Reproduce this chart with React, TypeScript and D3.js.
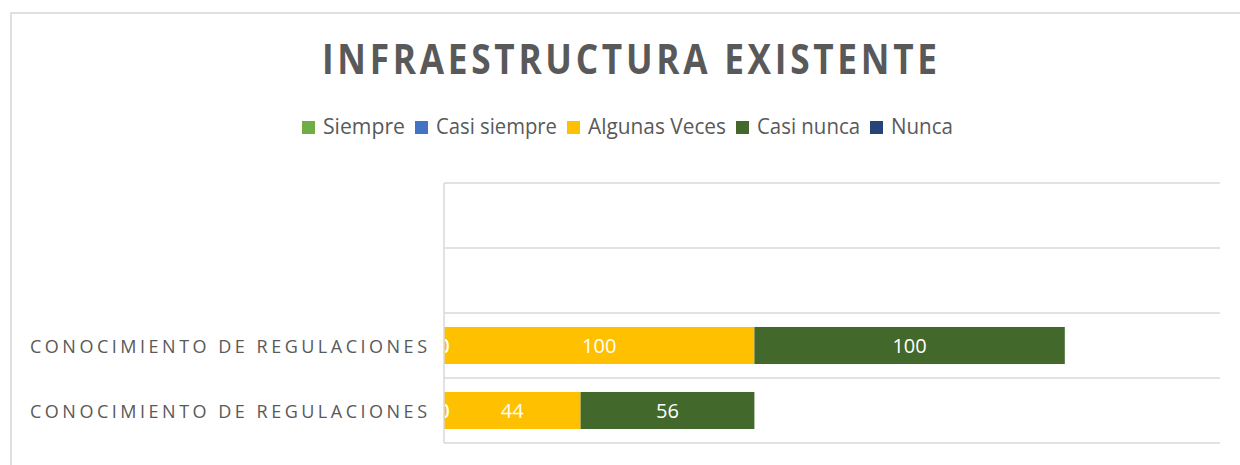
import React from "react";
import * as d3 from "d3";

// ---- data ----
const categories: string[] = ["", "", "CONOCIMIENTO DE REGULACIONES", "CONOCIMIENTO DE REGULACIONES"];
const seriesNames: string[] = ["Siempre", "Casi siempre", "Algunas Veces", "Casi nunca", "Nunca"];
const siempre: (number | null)[] = [null, null, 0, 0];
const casiSiempre: (number | null)[] = [null, null, 0, 0];
const algunasVeces: (number | null)[] = [null, null, 100, 44];
const casiNunca: (number | null)[] = [null, null, 100, 56];
const nunca: (number | null)[] = [null, null, null, null];
const xDomainMax = 250;
const title = "INFRAESTRUCTURA EXISTENTE";

// ---- styles ----
const colors = ["#70AD47", "#4472C4", "#FFC000", "#43682B", "#264478"];
const textColor = "#595959";
const gridColor = "#d9d9d9";
const font = "'Open Sans', 'Noto Sans', sans-serif";

const W = 1240;
const H = 465;
const plot = { left: 444, right: 1220, top: 183, bottom: 443 };

// legend text widths matched to reference
const legendTextWidths = [82, 121, 138, 103, 62];

export default function App() {
  const allSeries = [siempre, casiSiempre, algunasVeces, casiNunca, nunca];
  const idx = categories.map((_, i) => i);
  const y = d3.scaleBand<number>().domain(idx).range([plot.top, plot.bottom]).paddingInner(0.43).paddingOuter(0.215);
  const yOuter = d3.scaleBand<number>().domain(idx).range([plot.top, plot.bottom]);
  const x = d3.scaleLinear().domain([0, xDomainMax]).range([plot.left, plot.right]);

  const segs: { s: number; i: number; x0: number; x1: number; v: number }[] = [];
  idx.forEach((i) => {
    let acc = 0;
    allSeries.forEach((ser, s) => {
      const v = ser[i];
      if (v === null || v === undefined) return;
      segs.push({ s, i, x0: acc, x1: acc + v, v });
      acc += v;
    });
  });

  const gridYs = idx.map((i) => yOuter(i)!).concat([plot.bottom]);

  const sq = 13, gapSqText = 8, gapItems = 10;
  let lx = 302;
  const legendItems = seriesNames.map((n, k) => {
    const item = { n, k, x: lx };
    lx += sq + gapSqText + legendTextWidths[k] + gapItems;
    return item;
  });

  const titleSx = 0.86;
  const titleX = 322, titleW = 615;

  return (
    <svg width={W} height={H} style={{ position: "absolute", left: 0, top: 0, background: "#fff" }} fontFamily={font}>
      <defs>
        <clipPath id="plotClip">
          <rect x={plot.left + 1} y={plot.top} width={plot.right - plot.left} height={plot.bottom - plot.top} />
        </clipPath>
      </defs>
      <rect x={11} y={13} width={W + 50} height={H + 50} fill="#fff" stroke={gridColor} strokeWidth={1.6} />

      <g transform={`translate(${titleX},74) scale(${titleSx},1)`}>
        <text x={0} y={0} fontSize={41} fontWeight={700} fill={textColor} textLength={titleW / titleSx} lengthAdjust="spacing">
          {title}
        </text>
      </g>

      {legendItems.map((it) => (
        <g key={it.n}>
          <rect x={it.x} y={121} width={sq} height={sq} fill={colors[it.k]} />
          <text x={it.x + sq + gapSqText} y={134} fontSize={21} fill={textColor} textLength={legendTextWidths[it.k]} lengthAdjust="spacingAndGlyphs">
            {it.n}
          </text>
        </g>
      ))}

      {gridYs.map((gy, k) => (
        <line key={k} x1={plot.left} x2={plot.right} y1={gy} y2={gy} stroke={gridColor} strokeWidth={1.5} />
      ))}

      {segs.map((d, k) => (
        <rect key={k} x={x(d.x0)} y={y(d.i)!} width={x(d.x1) - x(d.x0)} height={y.bandwidth()} fill={colors[d.s]} />
      ))}

      <line x1={plot.left} x2={plot.left} y1={plot.top} y2={plot.bottom} stroke={gridColor} strokeWidth={1.5} />

      <g clipPath="url(#plotClip)">
        {segs.map((d, k) => (
          <text key={k} x={(x(d.x0) + x(d.x1)) / 2} y={y(d.i)! + y.bandwidth() / 2 + 7.5} fontSize={20} fill="#fff" textAnchor="middle">
            {d.v}
          </text>
        ))}
      </g>

      {idx.map((i) =>
        categories[i] ? (
          <text key={i} x={30} y={yOuter(i)! + yOuter.bandwidth() / 2 + 7.5} fontSize={18} fill={textColor} textLength={397} lengthAdjust="spacing">
            {categories[i]}
          </text>
        ) : null
      )}
    </svg>
  );
}
